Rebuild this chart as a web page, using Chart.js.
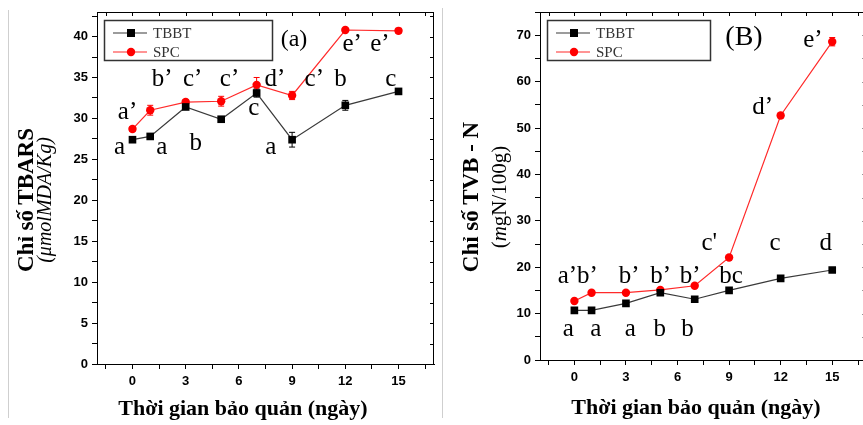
<!DOCTYPE html>
<html lang="vi">
<head>
<meta charset="utf-8">
<title>TBARS / TVB-N</title>
<script src="https://cdn.jsdelivr.net/npm/chart.js@4/dist/chart.umd.min.js"></script>
<style>
  html, body { margin: 0; padding: 0; background: #fff; }
  body { position: relative; width: 863px; height: 425px; overflow: hidden; }
  .panel { position: absolute; top: 0; height: 425px; }
  .txt { position: absolute; font-family: "Liberation Serif", "Times New Roman", serif; color: #000; white-space: nowrap; line-height: 1; }
  .rot { transform: translate(-50%, -50%) rotate(-90deg); }
  .ctr { transform: translate(-50%, -50%); }
  .bracket { position: absolute; border-left: 1px solid #cfcfcf; }
</style>
</head>
<body>
<div class="bracket" style="left:8px;top:10px;height:408px"></div>
<div class="bracket" style="left:442px;top:8px;height:410px"></div>

<div class="panel" style="left:0;width:440px"><canvas id="chartA"></canvas></div>
<div class="panel" style="left:440px;width:432px"><canvas id="chartB"></canvas></div>

<!-- tiêu đề trục + nhãn panel -->
<div class="txt rot" style="left:25px;top:200px;font-size:23px;font-weight:bold">Chỉ số TBARS</div>
<div class="txt rot" style="left:44px;top:200px;font-size:20px;font-style:italic">(μmolMDA/Kg)</div>
<div class="txt ctr" style="left:243px;top:408px;font-size:22px;font-weight:bold">Thời gian bảo quản (ngày)</div>
<div class="txt ctr" style="left:294px;top:38px;font-size:24px">(a)</div>

<div class="txt rot" style="left:470px;top:197px;font-size:23px;font-weight:bold">Chỉ số TVB - N</div>
<div class="txt rot" style="left:499px;top:197px;font-size:21px">(<i>m</i>gN/100g)</div>
<div class="txt ctr" style="left:696px;top:407px;font-size:22px;font-weight:bold">Thời gian bảo quản (ngày)</div>
<div class="txt ctr" style="left:744px;top:36px;font-size:28px">(B)</div>

<script>
// ---------- dữ liệu ----------
var DAYS = [0, 1, 3, 5, 7, 9, 12, 15];

var TBARS_TBBT     = [27.4, 27.8, 31.4, 29.9, 33.1, 27.4, 31.6, 33.3];
var TBARS_TBBT_ERR = [0.3, 0.3, 0.3, 0.3, 0.5, 0.9, 0.6, 0.2];
var TBARS_SPC      = [28.7, 31.0, 32.0, 32.1, 34.1, 32.8, 40.8, 40.7];
var TBARS_SPC_ERR  = [0.3, 0.6, 0.3, 0.6, 0.9, 0.5, 0.2, 0.3];

var TVBN_TBBT     = [10.7, 10.7, 12.2, 14.5, 13.1, 15.0, 17.6, 19.4];
var TVBN_TBBT_ERR = [0.2, 0.2, 0.3, 0.3, 0.3, 0.3, 0.3, 0.4];
var TVBN_SPC      = [12.7, 14.5, 14.5, 15.1, 16.0, 22.1, 52.7, 68.6];
var TVBN_SPC_ERR  = [0.3, 0.3, 0.3, 0.3, 0.3, 0.4, 0.5, 0.9];

// chữ cái thống kê: nội dung + vị trí (đơn vị dữ liệu, y = đường chân chữ)
var TBARS_LETTERS = ['a', 'a', 'b', 'c', 'a', 'b', 'c', 'a’', 'b’', 'c’', 'c’', 'd’', 'c’', 'e’', 'e’'];
var TBARS_LX = [-0.73, 1.65, 3.57, 6.84, 7.8, 11.73, 14.57, -0.28, 1.68, 3.39, 5.47, 8.03, 10.25, 12.39, 13.95];
var TBARS_LY = [25.7, 25.7, 26.1, 30.4, 25.7, 34.0, 34.0, 29.9, 34.0, 34.0, 34.0, 34.0, 34.0, 38.2, 38.2];

var TVBN_LETTERS = ['a', 'a', 'a', 'b', 'b', 'bc', 'c', 'd', 'a’b’', 'b’', 'b’', 'b’', "c'", 'd’', 'e’'];
var TVBN_LX = [-0.36, 1.24, 3.26, 4.97, 6.58, 9.12, 11.67, 14.63, 0.2, 3.18, 5.02, 6.73, 7.85, 10.95, 13.88];
var TVBN_LY = [5.2, 5.2, 5.2, 5.2, 5.2, 16.5, 23.8, 23.8, 16.5, 16.5, 16.5, 16.5, 23.8, 53.1, 67.4];

var SERIES_NAMES = ['TBBT', 'SPC'];

(function () {
  var SERIF = '"Liberation Serif", "Times New Roman", serif';
  Chart.defaults.font.family = '"Liberation Sans", Arial, sans-serif';
  Chart.defaults.color = '#000';

  function pts(ys) { return DAYS.map(function (d, i) { return { x: d, y: ys[i] }; }); }
  function tickList(from, to, step) {
    var out = [];
    for (var v = from; v <= to + 1e-9; v += step) out.push({ value: v });
    return out;
  }

  // vẽ error bar, chữ cái, khung trên/phải và chú thích
  var decor = {
    id: 'decor',
    beforeDatasetsDraw: function (chart) {
      var ctx = chart.ctx, xs = chart.scales.x, ys = chart.scales.y;
      chart.data.datasets.forEach(function (ds) {
        if (!ds.errors) return;
        ctx.save();
        ctx.strokeStyle = ds.pointBackgroundColor;
        ctx.lineWidth = 1;
        ds.data.forEach(function (p, k) {
          var e = ds.errors[k];
          var px = xs.getPixelForValue(p.x);
          var y1 = ys.getPixelForValue(p.y + e), y2 = ys.getPixelForValue(p.y - e);
          ctx.beginPath();
          ctx.moveTo(px, y1); ctx.lineTo(px, y2);
          ctx.moveTo(px - 3, y1); ctx.lineTo(px + 3, y1);
          ctx.moveTo(px - 3, y2); ctx.lineTo(px + 3, y2);
          ctx.stroke();
        });
        ctx.restore();
      });
    },
    afterDraw: function (chart, args, opts) {
      var ctx = chart.ctx, xs = chart.scales.x, ys = chart.scales.y, a = chart.chartArea;
      ctx.save();
      // khung trên + phải, vạch chia hướng vào trong
      ctx.strokeStyle = '#000';
      ctx.lineWidth = 1;
      ctx.beginPath();
      ctx.moveTo(a.left, a.top + 0.5); ctx.lineTo(a.right, a.top + 0.5);
      ctx.moveTo(a.right - 0.5, a.top); ctx.lineTo(a.right - 0.5, a.bottom);
      xs.ticks.forEach(function (t) {
        var px = Math.round(xs.getPixelForValue(t.value)) + 0.5;
        ctx.moveTo(px, a.top); ctx.lineTo(px, a.top + 4);
      });
      ys.ticks.forEach(function (t) {
        var py = Math.round(ys.getPixelForValue(t.value)) + 0.5;
        ctx.moveTo(a.right, py); ctx.lineTo(a.right - 4, py);
      });
      ctx.stroke();

      // chữ cái
      var L = opts.letters;
      ctx.fillStyle = '#000';
      ctx.font = '25px ' + SERIF;
      ctx.textAlign = 'center';
      ctx.textBaseline = 'alphabetic';
      L.text.forEach(function (s, i) {
        ctx.fillText(s, xs.getPixelForValue(L.x[i]), ys.getPixelForValue(L.y[i]));
      });

      // chú thích có khung
      var bx = a.left + 7, by = a.top + 8, bw = opts.legendWidth, bh = 40;
      ctx.lineWidth = 1.5;
      ctx.strokeStyle = '#333';
      ctx.strokeRect(bx + 0.5, by + 0.5, bw, bh);
      ctx.font = '15px ' + SERIF;
      ctx.textAlign = 'left';
      ctx.textBaseline = 'middle';
      chart.data.datasets.forEach(function (ds, i) {
        var cy = by + 13 + i * 19;
        ctx.strokeStyle = ds.borderColor;
        ctx.lineWidth = 1.2;
        ctx.beginPath(); ctx.moveTo(bx + 9, cy); ctx.lineTo(bx + 43, cy); ctx.stroke();
        ctx.fillStyle = ds.pointBackgroundColor;
        ctx.beginPath();
        if (ds.pointStyle === 'rect') ctx.rect(bx + 23, cy - 4, 8, 8);
        else ctx.arc(bx + 27, cy, 4.2, 0, Math.PI * 2);
        ctx.fill();
        ctx.fillStyle = '#333';
        ctx.fillText(ds.label, bx + 49, cy + 1);
      });
      ctx.restore();
    }
  };

  function makeChart(id, cfg) {
    var axisGrid = { display: true, drawOnChartArea: false, color: '#000', tickColor: '#000', tickLength: 5 };
    var tickFont = { size: 13, weight: 'bold' };
    return new Chart(document.getElementById(id).getContext('2d'), {
      type: 'line',
      data: {
        datasets: [
          { label: SERIES_NAMES[0], data: pts(cfg.tbbt), errors: cfg.tbbtErr,
            borderColor: '#3a3a3a', borderWidth: 1.2, pointStyle: 'rect', pointRadius: 5.4,
            pointBackgroundColor: '#000', pointBorderColor: '#000', pointBorderWidth: 0 },
          { label: SERIES_NAMES[1], data: pts(cfg.spc), errors: cfg.spcErr,
            borderColor: '#ff2a2a', borderWidth: 1.2, pointStyle: 'circle', pointRadius: 4.2,
            pointBackgroundColor: '#ff0000', pointBorderColor: '#ff0000', pointBorderWidth: 0 }
        ]
      },
      options: {
        responsive: true, maintainAspectRatio: false, animation: false,
        layout: { padding: cfg.padding },
        plugins: {
          legend: { display: false }, tooltip: { enabled: false },
          decor: { letters: cfg.letters, legendWidth: cfg.legendWidth }
        },
        scales: {
          x: {
            type: 'linear', min: -2, max: 17,
            afterBuildTicks: function (s) { s.ticks = tickList(-1.5, 16.5, 1.5); },
            afterFit: function (s) { s.height = cfg.xHeight; },
            grid: axisGrid, border: { color: '#000', width: 1 },
            ticks: { font: tickFont, padding: 5, maxRotation: 0, autoSkip: false,
              callback: function (v) { return (v >= 0 && v % 3 === 0) ? String(v) : ''; } }
          },
          y: {
            min: 0, max: cfg.yMax,
            afterBuildTicks: function (s) { s.ticks = tickList(0, cfg.yMax, cfg.yMinor); },
            afterFit: function (s) { s.width = cfg.yWidth; },
            grid: axisGrid, border: { color: '#000', width: 1 },
            ticks: { font: tickFont, padding: 4, autoSkip: false,
              callback: function (v) { return (v % cfg.yMajor === 0) ? String(v) : ''; } }
          }
        }
      },
      plugins: [decor]
    });
  }

  function init() {
    makeChart('chartA', {
      tbbt: TBARS_TBBT, tbbtErr: TBARS_TBBT_ERR, spc: TBARS_SPC, spcErr: TBARS_SPC_ERR,
      letters: { text: TBARS_LETTERS, x: TBARS_LX, y: TBARS_LY },
      yMax: 43, yMinor: 2.5, yMajor: 5,
      padding: { left: 0, top: 12, right: 6, bottom: 0 }, yWidth: 97, xHeight: 61, legendWidth: 168
    });
    makeChart('chartB', {
      tbbt: TVBN_TBBT, tbbtErr: TVBN_TBBT_ERR, spc: TVBN_SPC, spcErr: TVBN_SPC_ERR,
      letters: { text: TVBN_LETTERS, x: TVBN_LX, y: TVBN_LY },
      yMax: 75, yMinor: 5, yMajor: 10,
      padding: { left: 0, top: 12, right: 4, bottom: 0 }, yWidth: 100, xHeight: 65, legendWidth: 163
    });
  }

  if (document.readyState === 'loading') document.addEventListener('DOMContentLoaded', init);
  else init();
})();
</script>
</body>
</html>
